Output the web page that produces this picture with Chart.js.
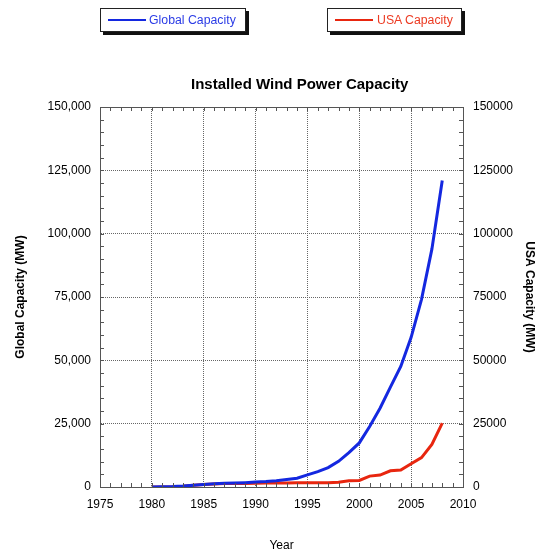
<!DOCTYPE html>
<html>
<head>
<meta charset="utf-8">
<script src="https://cdn.jsdelivr.net/npm/chart.js@4"></script>
<style>
  html, body { margin: 0; padding: 0; background: #fff; }
  #wrap { position: relative; width: 535px; height: 553px; font-family: "Liberation Sans", Arial, Helvetica, sans-serif; }
  canvas { position: absolute; left: 0; top: 0; }
  .leg { position: absolute; top: 8px; height: 24px; border: 1px solid #222; background: #fff; box-sizing: border-box;
         box-shadow: 3px 3px 0 #111; font-size: 12.3px; line-height: 22px; white-space: nowrap; }
  .leg span.ln { position: absolute; top: 10px; height: 2px; }
  .leg span.tx { position: absolute; top: 0; }
  #title { position: absolute; left: 191px; width: 200px; top: 75px; text-align: center; font-weight: bold; font-size: 15px; line-height: 18px; color: #000; white-space: nowrap; }
</style>
</head>
<body>
<div id="wrap">
  <canvas id="c" width="535" height="553"></canvas>
  <div class="leg" style="left:100px;width:146px;">
    <span class="ln" style="left:7px;width:38px;background:#1428e0;"></span>
    <span class="tx" style="left:48px;color:#2b3ce6;">Global Capacity</span>
  </div>
  <div class="leg" style="left:327px;width:135px;">
    <span class="ln" style="left:7px;width:38px;background:#e8260f;"></span>
    <span class="tx" style="left:49px;color:#ec3a22;">USA Capacity</span>
  </div>
  <div id="title">Installed Wind Power Capacity</div>
</div>
<script>
const years = [1980,1981,1982,1983,1984,1985,1986,1987,1988,1989,1990,1991,1992,1993,1994,1995,1996,1997,1998,1999,2000,2001,2002,2003,2004,2005,2006,2007,2008];
const globalCapacity = [10,50,150,350,650,1020,1300,1450,1550,1700,1930,2170,2510,2990,3490,4780,6070,7640,10150,13600,17400,23900,31100,39400,47600,59100,74100,93900,121000];
const usaCapacity = [10,20,80,250,650,1000,1220,1350,1400,1400,1500,1550,1580,1600,1650,1650,1650,1650,1850,2500,2600,4300,4700,6400,6700,9200,11600,16800,25200];
const xTicks = [1975,1980,1985,1990,1995,2000,2005,2010];
const yTicks = [0,25000,50000,75000,100000,125000,150000];

const FONT = "'Liberation Sans', Arial, Helvetica, sans-serif";

const frame = {
  id: 'frame',
  afterDraw(chart) {
    const {ctx, chartArea: a, scales} = chart;
    ctx.save();
    ctx.strokeStyle = '#555';
    ctx.lineWidth = 1;
    ctx.strokeRect(Math.round(a.left) + 0.5, Math.round(a.top) + 0.5, Math.round(a.right - a.left), Math.round(a.bottom - a.top));
    ctx.beginPath();
    const x = scales.x, y = scales.y;
    for (let v = 1975; v <= 2010; v++) {
      const px = Math.round(x.getPixelForValue(v)) + 0.5;
      ctx.moveTo(px, a.bottom); ctx.lineTo(px, a.bottom - 4);
      ctx.moveTo(px, a.top); ctx.lineTo(px, a.top + 4);
    }
    for (let v = 0; v <= 150000; v += 5000) {
      const py = Math.round(y.getPixelForValue(v)) + 0.5;
      ctx.moveTo(a.left, py); ctx.lineTo(a.left + 4, py);
      ctx.moveTo(a.right, py); ctx.lineTo(a.right - 4, py);
    }
    ctx.stroke();
    ctx.restore();
  }
};

new Chart(document.getElementById('c'), {
  type: 'line',
  data: {
    labels: years,
    datasets: [
      { label: 'Global Capacity', data: years.map((yr, i) => ({x: yr, y: globalCapacity[i]})),
        borderColor: '#1428e0', borderWidth: 3, pointRadius: 0, tension: 0, yAxisID: 'y' },
      { label: 'USA Capacity', data: years.map((yr, i) => ({x: yr, y: usaCapacity[i]})),
        borderColor: '#e8260f', borderWidth: 3, pointRadius: 0, tension: 0, yAxisID: 'y2' }
    ]
  },
  options: {
    responsive: false,
    animation: false,
    layout: { padding: { top: 107, left: 0, right: 0, bottom: 0 } },
    plugins: {
      legend: { display: false },
      tooltip: { enabled: false },
      title: { display: false }
    },
    scales: {
      x: {
        type: 'linear', min: 1975, max: 2010,
        afterBuildTicks: s => { s.ticks = xTicks.map(v => ({value: v})); },
        afterFit: s => { s.height = 66; },
        ticks: { color: '#000', font: { family: FONT, size: 12 }, padding: 10, maxRotation: 0,
                 callback: v => String(v) },
        grid: { color: '#666', lineWidth: 1, drawTicks: false },
        border: { display: true, color: '#555', dash: [1, 1] },
        title: { display: true, text: 'Year', color: '#000', font: { family: FONT, size: 12 }, padding: { top: 27, bottom: 0 } }
      },
      y: {
        position: 'left', min: 0, max: 150000,
        afterBuildTicks: s => { s.ticks = yTicks.map(v => ({value: v})); },
        afterFit: s => { s.width = 100; },
        ticks: { color: '#000', font: { family: FONT, size: 12 }, padding: 9,
                 callback: v => v.toLocaleString('en-US') },
        grid: { color: '#666', lineWidth: 1, drawTicks: false },
        border: { display: true, color: '#555', dash: [1, 1] },
        title: { display: true, text: 'Global Capacity (MW)', color: '#000', font: { family: FONT, size: 12, weight: 'bold' }, padding: { top: 13, bottom: 0 } }
      },
      y2: {
        position: 'right', min: 0, max: 150000,
        afterBuildTicks: s => { s.ticks = yTicks.map(v => ({value: v})); },
        afterFit: s => { s.width = 72; },
        ticks: { color: '#000', font: { family: FONT, size: 12 }, padding: 10,
                 callback: v => String(v) },
        grid: { display: false, drawTicks: false },
        border: { display: true, color: '#555' },
        title: { display: true, text: 'USA Capacity (MW)', color: '#000', font: { family: FONT, size: 12, weight: 'bold', lineHeight: 1 }, padding: { top: 0, bottom: 0 } }
      }
    }
  },
  plugins: [frame]
});
</script>
</body>
</html>
